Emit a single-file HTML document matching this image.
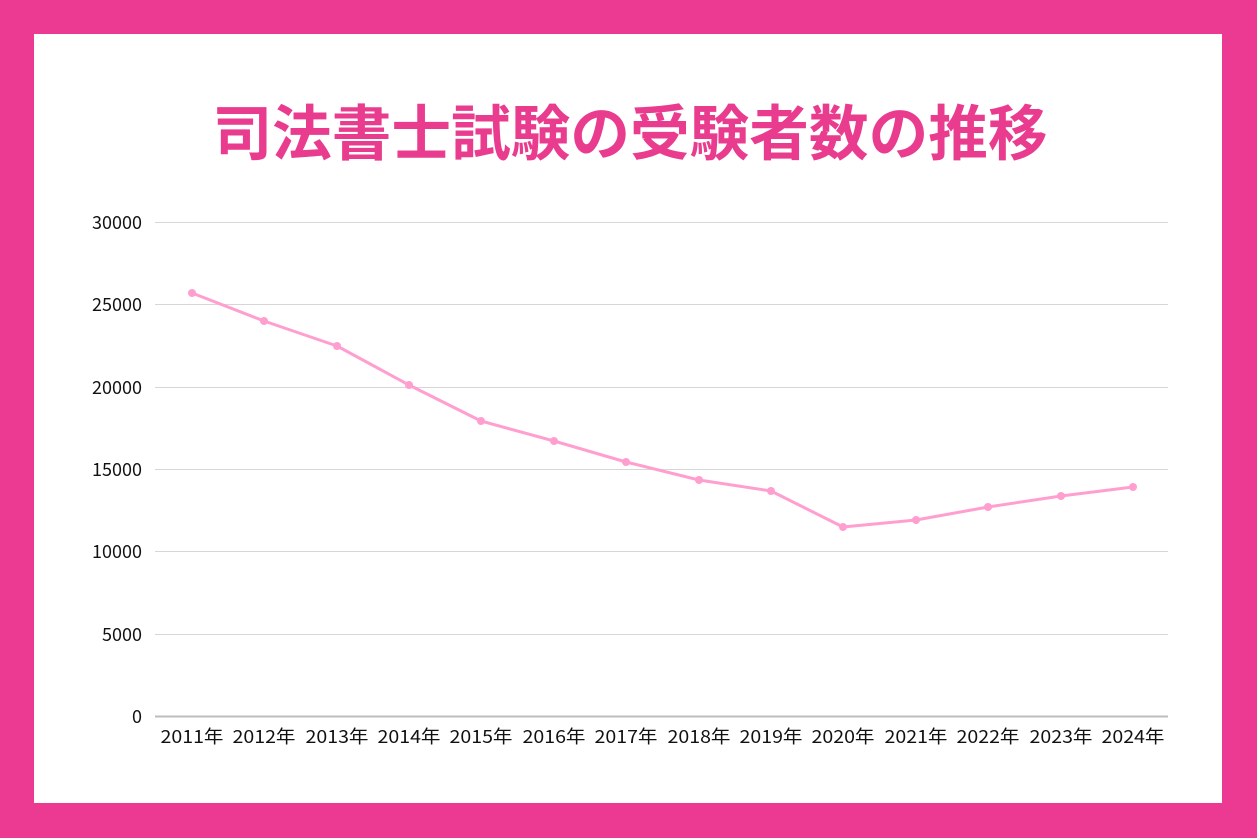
<!DOCTYPE html>
<html><head><meta charset="utf-8"><style>
html,body{margin:0;padding:0}
body{width:1257px;height:838px;background:#EC3A92;position:relative;overflow:hidden}
#w{position:absolute;left:34px;top:34px;width:1188px;height:769px;background:#fff}
</style></head><body>
<div id="w"></div>
<svg width="1257" height="838" style="position:absolute;left:0;top:0" font-family="'Noto Sans CJK JP',sans-serif">
<text x="630" y="155" text-anchor="middle" font-size="60" font-weight="bold" fill="#E93C8F" textLength="835" lengthAdjust="spacingAndGlyphs">司法書士試験の受験者数の推移</text>
<g stroke="#d6d6d6" stroke-width="1">
<line x1="155" x2="1168" y1="222.5" y2="222.5"/>
<line x1="155" x2="1168" y1="304.5" y2="304.5"/>
<line x1="155" x2="1168" y1="387.5" y2="387.5"/>
<line x1="155" x2="1168" y1="469.5" y2="469.5"/>
<line x1="155" x2="1168" y1="551.5" y2="551.5"/>
<line x1="155" x2="1168" y1="634.5" y2="634.5"/>
</g>
<line x1="155" x2="1168" y1="716.5" y2="716.5" stroke="#bdbdbd" stroke-width="2"/>
<g font-size="18" fill="#111" text-anchor="end">
<text x="142" y="229">30000</text>
<text x="142" y="311">25000</text>
<text x="142" y="394">20000</text>
<text x="142" y="476">15000</text>
<text x="142" y="558">10000</text>
<text x="142" y="641">5000</text>
<text x="142" y="723">0</text>
</g>
<g font-size="18" fill="#111" text-anchor="middle">
<text x="192" y="743" textLength="63" lengthAdjust="spacingAndGlyphs">2011年</text><text x="264" y="743" textLength="63" lengthAdjust="spacingAndGlyphs">2012年</text><text x="337" y="743" textLength="63" lengthAdjust="spacingAndGlyphs">2013年</text><text x="409" y="743" textLength="63" lengthAdjust="spacingAndGlyphs">2014年</text><text x="481" y="743" textLength="63" lengthAdjust="spacingAndGlyphs">2015年</text><text x="554" y="743" textLength="63" lengthAdjust="spacingAndGlyphs">2016年</text><text x="626" y="743" textLength="63" lengthAdjust="spacingAndGlyphs">2017年</text><text x="699" y="743" textLength="63" lengthAdjust="spacingAndGlyphs">2018年</text><text x="771" y="743" textLength="63" lengthAdjust="spacingAndGlyphs">2019年</text><text x="843" y="743" textLength="63" lengthAdjust="spacingAndGlyphs">2020年</text><text x="916" y="743" textLength="63" lengthAdjust="spacingAndGlyphs">2021年</text><text x="988" y="743" textLength="63" lengthAdjust="spacingAndGlyphs">2022年</text><text x="1061" y="743" textLength="63" lengthAdjust="spacingAndGlyphs">2023年</text><text x="1133" y="743" textLength="63" lengthAdjust="spacingAndGlyphs">2024年</text>
</g>
<polyline fill="none" stroke="#FF9FD0" stroke-width="3" stroke-linejoin="round" points="192,293 264,321 337,346 409,385 481,421 554,441 626,462 699,480 771,491 843,527 916,520 988,507 1061,496 1133,487"/>
<g fill="#FF9FD0">
<circle cx="192" cy="293" r="4"/><circle cx="264" cy="321" r="4"/><circle cx="337" cy="346" r="4"/><circle cx="409" cy="385" r="4"/><circle cx="481" cy="421" r="4"/><circle cx="554" cy="441" r="4"/><circle cx="626" cy="462" r="4"/><circle cx="699" cy="480" r="4"/><circle cx="771" cy="491" r="4"/><circle cx="843" cy="527" r="4"/><circle cx="916" cy="520" r="4"/><circle cx="988" cy="507" r="4"/><circle cx="1061" cy="496" r="4"/><circle cx="1133" cy="487" r="4"/>
</g>
</svg>
</body></html>
